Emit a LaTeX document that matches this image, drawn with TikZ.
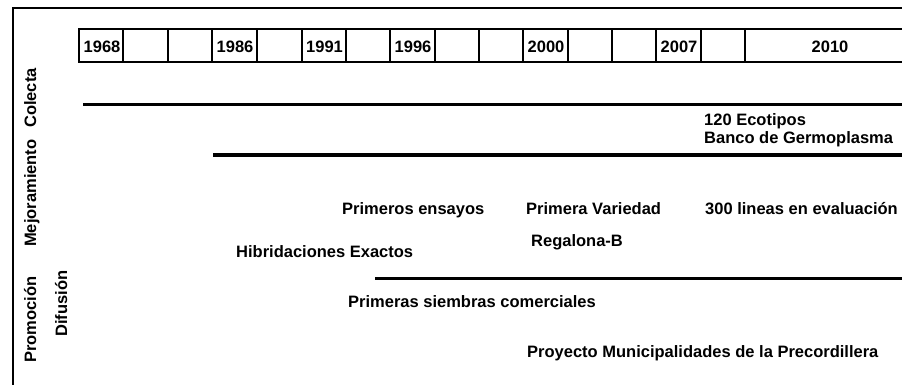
\documentclass[tikz,border=0pt]{standalone}
\usepackage{fontspec}
\setmainfont{Liberation Sans}
\begin{document}
\begin{tikzpicture}[x=1pt,y=-1pt,
  lbl/.style={font=\fontsize{16.5}{18}\selectfont\bfseries, inner sep=0pt, anchor=base west},
  vlbl/.style={lbl, rotate=90},
  yearlbl/.style={lbl},
  bar/.style={line width=3pt},
  frameline/.style={line width=2.4pt},
  gridline/.style={line width=2.4pt}]
\useasboundingbox (0,0) rectangle (902,385);
\fill[white] (0,0) rectangle (902,385);
% outer frame
\draw[frameline] (902,8) -- (13,8) -- (13,385);
% table of years
\draw[gridline] (902,29) -- (79,29) -- (79,62) -- (902,62);
\foreach \x in {123,168,212,257,302,346,390,435,479,523,568,612,656,701,745}
  \draw[gridline] (\x,29) -- (\x,62);
\node[yearlbl] (y1968) at (83.5,53) {1968};
\node[yearlbl] (y1986) at (216.5,53) {1986};
\node[yearlbl] (y1991) at (306,53) {1991};
\node[yearlbl] (y1996) at (394.5,53) {1996};
\node[yearlbl] (y2000) at (527.5,53) {2000};
\node[yearlbl] (y2007) at (660.5,53) {2007};
\node[yearlbl, anchor=base] (y2010) at (830,53) {2010};
% row labels
\node[vlbl] (colecta) at (36,128) {Colecta};
\node[vlbl] (mejora) at (36,247) {Mejoramiento};
\node[vlbl] (promo) at (36,363) {Promoción};
\node[vlbl] (difusion) at (67,337) {Difusión};
% bars
\draw[bar] (83,105) -- (902,105);
\draw[bar] (213,155) -- (902,155);
\draw[bar] (375,278) -- (902,278);
% texts
\node[lbl] (eco) at (704,126) {120 Ecotipos};
\node[lbl] (banco) at (704,143) {Banco de Germoplasma};
\node[lbl] (ensayos) at (342,214) {Primeros ensayos};
\node[lbl] (variedad) at (526,214) {Primera Variedad};
\node[lbl] (lineas) at (705,214) {300 lineas en evaluación};
\node[lbl] (regalona) at (531,246) {Regalona-B};
\node[lbl] (hibrid) at (236,257) {Hibridaciones Exactos};
\node[lbl] (siembras) at (348,307) {Primeras siembras comerciales};
\node[lbl] (proyecto) at (527,357) {Proyecto Municipalidades de la Precordillera};
\end{tikzpicture}
\end{document}
